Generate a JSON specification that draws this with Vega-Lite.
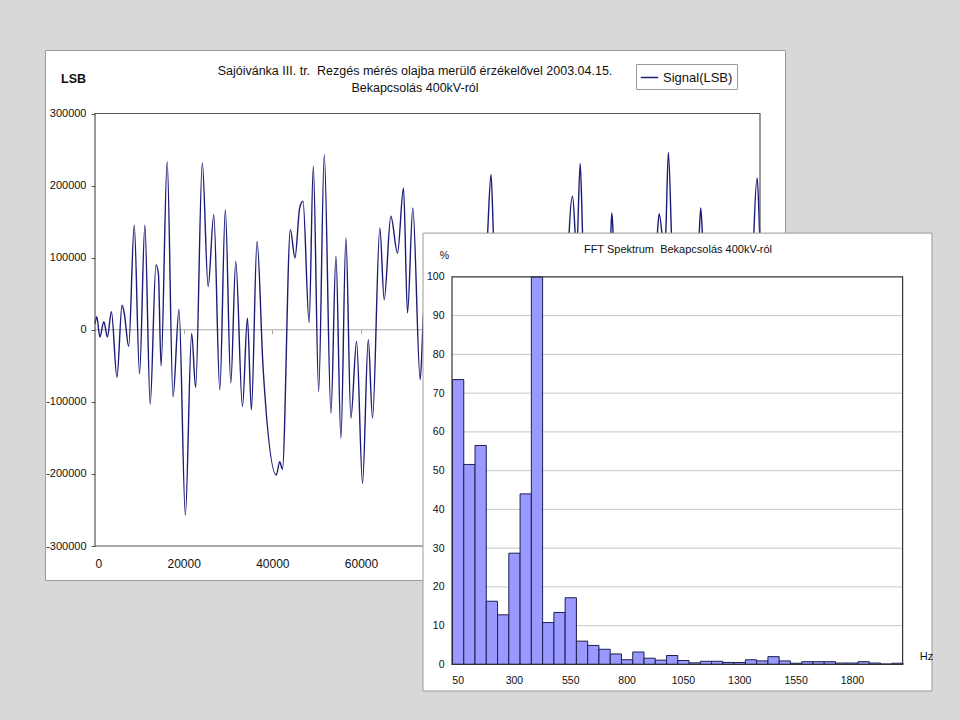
{
 "$schema": "https://vega.github.io/schema/vega-lite/v6.json",
 "background": "#d8d8d8",
 "autosize": {"type": "none"},
 "padding": {"left": 45, "top": 50, "right": 175, "bottom": 140},
 "width": 740,
 "height": 530,
 "config": {
   "font": "Liberation Sans",
   "view": {"fill": "white", "stroke": "#9a9a9a", "strokeWidth": 1},
   "axis": {"grid": false, "labelColor": "#111", "titleColor": "#111"}
 },
 "title": {
   "text": ["Sajóivánka III. tr.\u00a0 Rezgés mérés olajba merülő érzékelővel 2003.04.15.", "Bekapcsolás 400kV-ról"],
   "anchor": "middle", "frame": "group", "fontSize": 12.5, "fontWeight": "normal", "color": "#111", "offset": -44, "lineHeight": 17
 },
 "datasets": {
   "signal": [
     {"t":0,"v":8000},{"t":400,"v":18000},{"t":1100,"v":-10000},{"t":2000,"v":11000},{"t":2800,"v":-10000},{"t":3700,"v":25000},{"t":4950,"v":-66000},{"t":6100,"v":34000},{"t":6600,"v":23000},{"t":7600,"v":-23000},{"t":8850,"v":145000},{"t":10050,"v":-61000},{"t":11250,"v":145000},{"t":12450,"v":-103000},{"t":13750,"v":90000},{"t":14300,"v":78000},{"t":14900,"v":-50000},{"t":16280,"v":233000},{"t":17600,"v":-93000},{"t":18950,"v":28000},{"t":20380,"v":-257000},{"t":21800,"v":-5000},{"t":22700,"v":-80000},{"t":24200,"v":231500},{"t":25520,"v":60000},{"t":26800,"v":159700},{"t":28150,"v":-83300},{"t":29400,"v":166700},{"t":30630,"v":-74000},{"t":31750,"v":94900},{"t":33260,"v":-106500},{"t":34380,"v":16200},{"t":35280,"v":-111100},{"t":36550,"v":122700},{"t":37900,"v":-50900},{"t":40900,"v":-201400},{"t":41660,"v":-182900},{"t":42270,"v":-193500},{"t":44070,"v":138900},{"t":45110,"v":99600},{"t":46170,"v":169000},{"t":46920,"v":178200},{"t":48300,"v":10000},{"t":49240,"v":226800},{"t":50450,"v":-85700},{"t":51720,"v":243000},{"t":53220,"v":-115700},{"t":54350,"v":101900},{"t":55470,"v":-150500},{"t":56600,"v":127300},{"t":57720,"v":-122700},{"t":59000,"v":-16200},{"t":60350,"v":-213000},{"t":61640,"v":-13900},{"t":62600,"v":-122700},{"t":64250,"v":141200},{"t":65230,"v":41700},{"t":66730,"v":157400},{"t":68240,"v":106500},{"t":69590,"v":196800},{"t":70490,"v":23200},{"t":71690,"v":169000},{"t":73350,"v":-69400},
     {"t":74100,"v":23000},{"t":74700,"v":60000},{"t":76000,"v":-90000},{"t":77300,"v":80000},{"t":78600,"v":-120000},{"t":79900,"v":50000},{"t":81200,"v":-150000},{"t":82500,"v":90000},{"t":83800,"v":-60000},{"t":85100,"v":110000},{"t":86400,"v":-100000},{"t":87700,"v":20000},{"t":88570,"v":134700},{"t":89330,"v":215300},{"t":89850,"v":134700},{"t":91000,"v":-80000},{"t":92300,"v":90000},{"t":93600,"v":-130000},{"t":94900,"v":70000},{"t":96200,"v":-170000},{"t":97500,"v":40000},{"t":98800,"v":-140000},{"t":100100,"v":100000},{"t":101400,"v":-90000},{"t":102700,"v":120000},{"t":104000,"v":-60000},{"t":105300,"v":80000},{"t":106200,"v":-20000},{"t":106950,"v":134700},{"t":107720,"v":185200},{"t":108650,"v":110000},{"t":109440,"v":230600},{"t":109970,"v":134700},{"t":111000,"v":-60000},{"t":112300,"v":100000},{"t":113600,"v":-110000},{"t":114900,"v":60000},{"t":115700,"v":0},{"t":116350,"v":134700},{"t":116580,"v":162000},{"t":116860,"v":134700},{"t":117800,"v":-50000},{"t":119100,"v":90000},{"t":120400,"v":-130000},{"t":121700,"v":50000},{"t":123000,"v":-170000},{"t":124300,"v":70000},{"t":125600,"v":-80000},{"t":126870,"v":134700},{"t":127240,"v":161100},{"t":127850,"v":134700},{"t":128300,"v":100000},{"t":128750,"v":134700},{"t":129330,"v":246300},{"t":130010,"v":134700},{"t":131000,"v":-90000},{"t":132300,"v":80000},{"t":133600,"v":-120000},{"t":134900,"v":60000},{"t":135700,"v":20000},{"t":136310,"v":134700},{"t":136630,"v":169000},{"t":136990,"v":134700},{"t":138000,"v":-70000},{"t":139300,"v":100000},{"t":140600,"v":-150000},{"t":141900,"v":40000},{"t":143200,"v":-200000},{"t":144500,"v":60000},{"t":145800,"v":-100000},{"t":147100,"v":110000},{"t":148000,"v":-20000},{"t":148630,"v":134700},{"t":149370,"v":210700},{"t":149910,"v":134700},{"t":150000,"v":120000}
   ],
   "fft": [
     {"f":50,"p":73.5},{"f":100,"p":51.6},{"f":150,"p":56.5},{"f":200,"p":16.3},{"f":250,"p":12.8},{"f":300,"p":28.7},{"f":350,"p":44.0},{"f":400,"p":100},{"f":450,"p":10.8},{"f":500,"p":13.4},{"f":550,"p":17.2},{"f":600,"p":6.0},{"f":650,"p":4.9},{"f":700,"p":3.9},{"f":750,"p":2.7},{"f":800,"p":1.2},{"f":850,"p":3.2},{"f":900,"p":1.6},{"f":950,"p":1.1},{"f":1000,"p":2.3},{"f":1050,"p":1.0},{"f":1100,"p":0.4},{"f":1150,"p":0.8},{"f":1200,"p":0.8},{"f":1250,"p":0.5},{"f":1300,"p":0.5},{"f":1350,"p":1.2},{"f":1400,"p":0.9},{"f":1450,"p":2.0},{"f":1500,"p":0.9},{"f":1550,"p":0.3},{"f":1600,"p":0.7},{"f":1650,"p":0.7},{"f":1700,"p":0.7},{"f":1750,"p":0.35},{"f":1800,"p":0.35},{"f":1850,"p":0.7},{"f":1900,"p":0.35},{"f":1950,"p":0.1},{"f":2000,"p":0.3}
   ],
   "grid": [{"g":10},{"g":20},{"g":30},{"g":40},{"g":50},{"g":60},{"g":70},{"g":80},{"g":90}]
 },
 "layer": [
   {
     "data": {"values": [{}]},
     "mark": {"type": "rule", "color": "#a8a8a8", "strokeWidth": 1},
     "encoding": {
       "x": {"datum": 0, "type": "quantitative", "scale": {"domain": [0, 150000], "range": [50, 715], "nice": false, "zero": false},
             "axis": {"orient": "bottom", "offset": -250.3, "values": [20000,40000,60000,80000,100000,120000,140000], "labels": false, "ticks": true, "tickSize": 4, "tickColor": "#a8a8a8", "domain": false, "title": null, "grid": false}},
       "x2": {"datum": 150000},
       "y": {"datum": 0, "type": "quantitative", "axis": null, "scale": {"domain": [-300000, 300000], "range": [496, 63.5], "nice": false, "zero": false}}
     }
   },
   {
     "data": {"name": "signal"},
     "mark": {"type": "line", "interpolate": "monotone", "strokeWidth": 1.4},
     "encoding": {
       "x": {"field": "t", "type": "quantitative",
             "scale": {"domain": [0, 150000], "range": [50, 715], "nice": false, "zero": false},
             "axis": {"orient": "bottom", "values": [0,20000,40000,60000,80000,100000,120000,140000], "offset": -34, "labelExpr": "'' + datum.value", "labelFontSize": 12, "labelPadding": 12, "ticks": false, "domain": false, "title": null, "grid": false}},
       "y": {"field": "v", "type": "quantitative",
             "scale": {"domain": [-300000, 300000], "range": [496, 63.5], "nice": false, "zero": false},
             "axis": {"orient": "left", "values": [-300000,-200000,-100000,0,100000,200000,300000], "offset": -50, "labelExpr": "'' + datum.value", "labelFontSize": 11, "labelPadding": 5, "ticks": true, "tickSize": 4, "tickColor": "#555", "domain": false, "grid": false,
                      "title": "LSB", "titleAngle": 0, "titleX": -22, "titleY": 28, "titleFontWeight": "bold", "titleFontSize": 12.5, "titleAlign": "center", "titleBaseline": "middle"}},
       "color": {"datum": "Signal(LSB)", "type": "nominal", "scale": {"range": ["#1c1c78"]},
                 "legend": {"orient": "none", "legendX": 591, "legendY": 14, "title": null, "strokeColor": "#9a9a9a", "fillColor": "white", "padding": 4, "symbolType": "stroke", "symbolSize": 300, "symbolStrokeWidth": 1.5, "labelFontSize": 13, "labelColor": "#111"}}
     }
   },
   {
     "data": {"values": [{}]},
     "mark": {"type": "rect", "fill": "transparent", "stroke": "#555", "strokeWidth": 1.2},
     "encoding": {
       "x": {"datum": 0, "type": "quantitative", "axis": null, "scale": {"domain": [0, 150000], "range": [50, 715], "nice": false, "zero": false}},
       "x2": {"datum": 150000},
       "y": {"datum": -300000, "type": "quantitative", "axis": null, "scale": {"domain": [-300000, 300000], "range": [496, 63.5], "nice": false, "zero": false}},
       "y2": {"datum": 300000}
     }
   },
   {
     "data": {"values": [{}]},
     "mark": {"type": "rect", "fill": "white", "stroke": "#9a9a9a", "strokeWidth": 1},
     "encoding": {
       "x": {"datum": -103.7, "type": "quantitative", "axis": null, "scale": {"domain": [25, 2025], "range": [407, 857.6], "nice": false, "zero": false}},
       "x2": {"datum": 2155.5},
       "y": {"datum": -6.86, "type": "quantitative", "axis": null, "scale": {"domain": [0, 100], "range": [614.4, 226.9], "nice": false, "zero": false}},
       "y2": {"datum": 111.3}
     }
   },
   {
     "data": {"name": "grid"},
     "mark": {"type": "rule", "color": "#c8c8c8", "strokeWidth": 1},
     "encoding": {
       "x": {"datum": 25, "type": "quantitative", "axis": null, "scale": {"domain": [25, 2025], "range": [407, 857.6], "nice": false, "zero": false}},
       "x2": {"datum": 2025},
       "y": {"field": "g", "type": "quantitative", "axis": null, "scale": {"domain": [0, 100], "range": [614.4, 226.9], "nice": false, "zero": false}}
     }
   },
   {
     "data": {"name": "fft"},
     "mark": {"type": "bar", "fill": "#9999ff", "stroke": "#1e1e50", "strokeWidth": 1, "binSpacing": 0},
     "encoding": {
       "x": {"field": "f", "type": "quantitative", "bin": {"extent": [25, 2025], "step": 50, "nice": false},
             "scale": {"domain": [25, 2025], "range": [407, 857.6], "nice": false, "zero": false},
             "axis": {"orient": "bottom", "values": [50,300,550,800,1050,1300,1550,1800], "offset": 84.4, "zindex": 1, "domain": false, "ticks": false, "labelPadding": 11, "labelFontSize": 10.5, "format": "d", "grid": false,
                      "title": "Hz", "titleX": 881, "titleY": -8, "titleFontWeight": "normal", "titleFontSize": 11, "titleAlign": "center", "titleBaseline": "middle"}},
       "y": {"field": "p", "type": "quantitative",
             "scale": {"domain": [0, 100], "range": [614.4, 226.9], "nice": false, "zero": false},
             "axis": {"orient": "left", "values": [0,10,20,30,40,50,60,70,80,90,100], "offset": -407, "zindex": 1, "domain": false, "ticks": false, "labelPadding": 8, "labelFontSize": 10.5, "grid": false,
                      "title": "%", "titleAngle": 0, "titleX": -8, "titleY": 205, "titleFontWeight": "normal", "titleFontSize": 10.5, "titleAlign": "center", "titleBaseline": "middle"}}
     }
   },
   {
     "data": {"values": [{}]},
     "mark": {"type": "rect", "fill": "transparent", "stroke": "#333", "strokeWidth": 1.2},
     "encoding": {
       "x": {"datum": 25, "type": "quantitative", "axis": null, "scale": {"domain": [25, 2025], "range": [407, 857.6], "nice": false, "zero": false}},
       "x2": {"datum": 2025},
       "y": {"datum": 0, "type": "quantitative", "axis": null, "scale": {"domain": [0, 100], "range": [614.4, 226.9], "nice": false, "zero": false}},
       "y2": {"datum": 100}
     }
   },
   {
     "data": {"values": [{}]},
     "mark": {"type": "text", "text": "FFT Spektrum\u00a0 Bekapcsolás 400kV-ról", "fontSize": 11, "color": "#111"},
     "encoding": {
       "x": {"datum": 1028, "type": "quantitative", "axis": null, "scale": {"domain": [25, 2025], "range": [407, 857.6], "nice": false, "zero": false}},
       "y": {"datum": 106.9, "type": "quantitative", "axis": null, "scale": {"domain": [0, 100], "range": [614.4, 226.9], "nice": false, "zero": false}}
     }
   }
 ],
 "resolve": {"scale": {"x": "independent", "y": "independent"}, "axis": {"x": "independent", "y": "independent"}}
}
